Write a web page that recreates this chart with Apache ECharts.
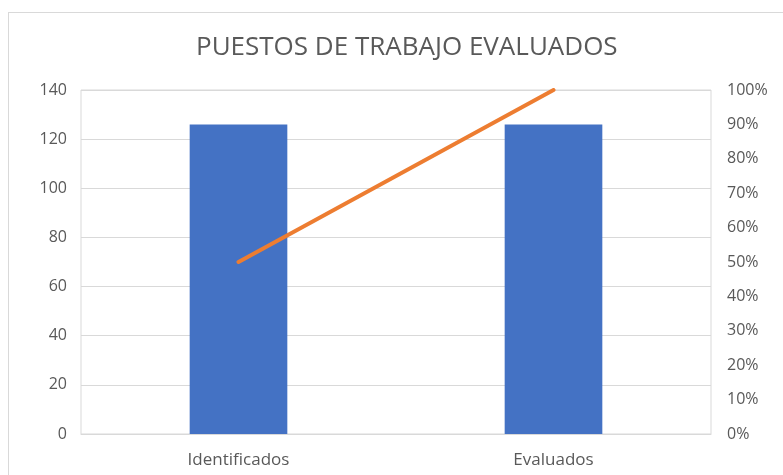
<!DOCTYPE html>
<html>
<head>
<meta charset="utf-8">
<script src="https://cdn.jsdelivr.net/npm/echarts@6/dist/echarts.min.js"></script>
<style>
  html, body { margin: 0; padding: 0; background: #fff; }
  #frame { position: absolute; left: 8px; top: 12px; width: 790px; height: 480px; border: 1px solid #d9d9d9; box-sizing: border-box; }
  #chart { position: absolute; left: 0; top: 0; width: 783px; height: 475px; }
</style>
</head>
<body>
<div id="frame"></div>
<div id="chart"></div>
<script>
  const categories = ['Identificados', 'Evaluados'];
  const puestos = [126, 126];
  const porcentaje = [50, 100];
  const leftTicks = { min: 0, max: 140, interval: 20 };
  const rightTicks = { min: 0, max: 100, interval: 10 };

  const textColor = '#595959';
  const gridColor = '#d9d9d9';
  const fontFamily = '"Open Sans", "Noto Sans", sans-serif';

  const chart = echarts.init(document.getElementById('chart'));
  chart.setOption({
    backgroundColor: 'transparent',
    animation: false,
    title: {
      text: 'PUESTOS DE TRABAJO EVALUADOS',
      left: 191,
      top: 30,
      textStyle: { color: textColor, fontSize: 26, fontWeight: 'normal', fontFamily: fontFamily }
    },
    grid: {
      left: 81,
      right: 72,
      top: 90,
      bottom: 41,
      containLabel: false,
      outerBoundsMode: 'none',
      show: true,
      borderColor: gridColor,
      borderWidth: 1
    },
    xAxis: {
      type: 'category',
      data: categories,
      axisLine: { show: true, lineStyle: { color: gridColor } },
      axisTick: { show: false },
      axisLabel: { color: textColor, fontSize: 17, fontFamily: fontFamily, margin: 18 }
    },
    yAxis: [
      {
        type: 'value',
        min: leftTicks.min,
        max: leftTicks.max,
        interval: leftTicks.interval,
        axisLine: { show: false },
        axisTick: { show: false },
        splitLine: { lineStyle: { color: gridColor } },
        axisLabel: { color: textColor, fontSize: 16, fontFamily: fontFamily, margin: 14 }
      },
      {
        type: 'value',
        min: rightTicks.min,
        max: rightTicks.max,
        interval: rightTicks.interval,
        position: 'right',
        axisLine: { show: false },
        axisTick: { show: false },
        splitLine: { show: false },
        axisLabel: { color: textColor, fontSize: 16, fontFamily: fontFamily, margin: 16, formatter: '{value}%' }
      }
    ],
    series: [
      {
        name: 'Puestos',
        type: 'bar',
        data: puestos,
        barWidth: '31%',
        itemStyle: { color: '#4472c4' }
      },
      {
        name: 'Porcentaje',
        type: 'line',
        yAxisIndex: 1,
        data: porcentaje,
        symbol: 'none',
        lineStyle: { color: '#ed7d31', width: 4, cap: 'round' }
      }
    ]
  });
</script>
</body>
</html>
